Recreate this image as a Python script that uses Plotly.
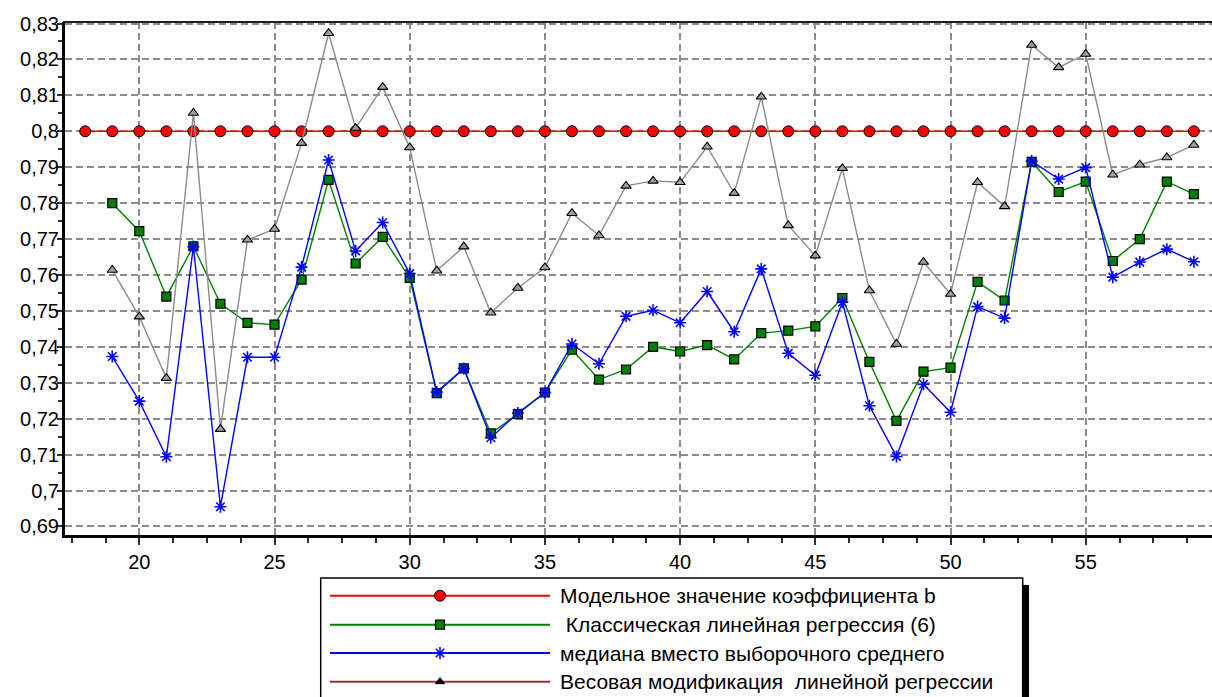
import plotly.graph_objects as go

# --- data -------------------------------------------------------------
x_model = list(range(18, 60))
b_model = [0.8] * len(x_model)

x_est = list(range(19, 60))
b_classic = [
    0.780, 0.7722, 0.754, 0.768, 0.752, 0.7467, 0.7462, 0.7587, 0.7865, 0.7632,
    0.7706, 0.7592, 0.7271, 0.734, 0.7159, 0.7213, 0.7273, 0.7392, 0.7309, 0.7337,
    0.740, 0.7387, 0.7405, 0.7365, 0.7438, 0.7445, 0.7457, 0.7536, 0.7358, 0.7194,
    0.7331, 0.7342, 0.7581, 0.7529, 0.7915, 0.7831, 0.786, 0.7639, 0.770, 0.786,
    0.7825,
]
b_median = [
    0.7373, 0.7249, 0.7094, 0.7679, 0.6955, 0.7371, 0.7371, 0.7622, 0.792, 0.7667,
    0.7746, 0.7604, 0.7274, 0.734, 0.7147, 0.7216, 0.7273, 0.7408, 0.7353, 0.7485,
    0.7502, 0.7467, 0.7554, 0.7442, 0.7617, 0.7382, 0.7321, 0.7524, 0.7236, 0.7095,
    0.7296, 0.7218, 0.7512, 0.748, 0.7917, 0.7867, 0.7899, 0.7594, 0.7636, 0.7672,
    0.7637,
]
b_weighted = [
    0.7614, 0.7484, 0.7313, 0.8051, 0.7171, 0.7698, 0.7728, 0.7967, 0.8273, 0.8009,
    0.8123, 0.7955, 0.7612, 0.7679, 0.7495, 0.7564, 0.7621, 0.7772, 0.771, 0.7848,
    0.7862, 0.7858, 0.7957, 0.7828, 0.8096, 0.7738, 0.7654, 0.7897, 0.7557, 0.7408,
    0.7636, 0.7547, 0.7858, 0.7791, 0.824, 0.8178, 0.8215, 0.7879, 0.7907, 0.7927,
    0.7962,
]

y_tickvals = [0.69, 0.70, 0.71, 0.72, 0.73, 0.74, 0.75, 0.76,
              0.77, 0.78, 0.79, 0.80, 0.81, 0.82, 0.83]
y_ticktext = ["0,69", "0,7", "0,71", "0,72", "0,73", "0,74", "0,75", "0,76",
              "0,77", "0,78", "0,79", "0,8", "0,81", "0,82", "0,83"]

series_names = [
    "Модельное значение коэффициента b",
    "\u00a0Классическая линейная регрессия (6)",
    "медиана вместо выборочного среднего",
    "Весовая модификация \u00a0линейной регрессии",
]

# --- styling ------------------------------------------------------------
W, H = 1212, 697
FONT = "Liberation Sans, Arial, sans-serif"
RED, GREEN, BLUE, GRAY, BROWN = "#ff0000", "#008000", "#0000ff", "#8c8c8c", "#993333"


def fx(px):
    return px / W


def fy(py):
    return 1 - py / H


# plot area in pixels
L, R, T, B = 65, W, 22, 535
Y_RANGE = [0.68763, 0.83042]

MK_MODEL = dict(symbol="circle", size=11, color=RED, line=dict(color="black", width=1))
MK_CLASSIC = dict(symbol="square", size=9, color=GREEN, line=dict(color="black", width=1.2))
MK_MEDIAN = dict(symbol="asterisk-open", size=10, color=BLUE, line=dict(color=BLUE, width=1.6))

fig = go.Figure()

fig.add_trace(go.Scatter(
    x=x_model, y=b_model, mode="lines+markers",
    line=dict(color=RED, width=1.6), marker=MK_MODEL,
))
fig.add_trace(go.Scatter(
    x=x_est, y=b_classic, mode="lines+markers",
    line=dict(color=GREEN, width=1.4), marker=MK_CLASSIC,
))
fig.add_trace(go.Scatter(
    x=x_est, y=b_median, mode="lines+markers",
    line=dict(color=BLUE, width=1.4), marker=MK_MEDIAN,
))
fig.add_trace(go.Scatter(
    x=x_est, y=b_weighted, mode="lines+markers",
    line=dict(color=GRAY, width=1.4),
    marker=dict(symbol="triangle-up", size=9, color="#a0a0a0", line=dict(color="black", width=1.1)),
))

# --- legend drawn in its own pixel-unit axes ------------------------------
leg_rows = [595.7, 624.7, 653.0, 681.7]
leg_line_colors = [RED, GREEN, BLUE, BROWN]
leg_markers = [
    MK_MODEL, MK_CLASSIC, MK_MEDIAN,
    dict(symbol="triangle-up", size=8, color="black", line=dict(color="black", width=1)),
]
for row, col, mk in zip(leg_rows, leg_line_colors, leg_markers):
    fig.add_trace(go.Scatter(
        x=[330, 550], y=[row, row], mode="lines",
        line=dict(color=col, width=2), xaxis="x2", yaxis="y2",
    ))
    fig.add_trace(go.Scatter(
        x=[440], y=[row], mode="markers", marker=mk, xaxis="x2", yaxis="y2",
    ))

shapes = [
    # legend shadow and frame
    dict(type="rect", xref="paper", yref="paper", x0=fx(1022.5), x1=fx(1029),
         y0=-0.05, y1=fy(585), fillcolor="black", line=dict(width=0), layer="below"),
    dict(type="rect", xref="paper", yref="paper", x0=fx(320.7), x1=fx(1022.7),
         y0=-0.05, y1=fy(578), fillcolor="white", line=dict(color="black", width=1.5),
         layer="below"),
    # thin frame on top of the plot area
    dict(type="line", xref="paper", yref="paper", x0=fx(L - 2), x1=1, y0=fy(T), y1=fy(T),
         line=dict(color="#202020", width=2)),
]

annotations = []
for name, row in zip(series_names, leg_rows):
    annotations.append(dict(
        xref="paper", yref="paper", x=fx(558), y=fy(row), text=name,
        xanchor="left", yanchor="middle", showarrow=False,
        font=dict(family=FONT, size=21, color="black"),
    ))

grid = dict(showgrid=True, gridcolor="#8c8c8c", gridwidth=1.6, griddash="7px,4px")

fig.update_layout(
    template="none",
    width=W, height=H,
    margin=dict(l=0, r=0, t=0, b=0),
    paper_bgcolor="white",
    plot_bgcolor="rgba(0,0,0,0)",
    showlegend=False,
    separators=", ",
    font=dict(family=FONT, size=20, color="black"),
    xaxis=dict(
        domain=[fx(L), 1], range=[17.252, 59.67],
        tickmode="linear", tick0=20, dtick=5,
        ticks="outside", ticklen=7, tickwidth=1.5, tickcolor="#303030",
        showline=True, linecolor="black", linewidth=3,
        zeroline=False, automargin=False,
        tickfont=dict(family=FONT, size=20, color="black"),
        minor=dict(dtick=1.25, tick0=20, ticks="outside", ticklen=5,
                   tickwidth=1.5, tickcolor="#303030", showgrid=False),
        **grid,
    ),
    yaxis=dict(
        domain=[fy(B), fy(T)], range=Y_RANGE,
        tickmode="array", tickvals=y_tickvals, showticklabels=False,
        ticks="outside", ticklen=5, tickwidth=1.5, tickcolor="#303030",
        showline=True, linecolor="black", linewidth=3,
        zeroline=False, automargin=False,
        minor=dict(tickmode="linear", dtick=0.005, tick0=0.685, ticks="outside",
                   ticklen=4, tickwidth=1.5, tickcolor="#303030", showgrid=False),
        **grid,
    ),
    # tick labels of the value axis, placed independently of the tick marks
    yaxis3=dict(
        overlaying="y", anchor="x", side="left", range=Y_RANGE,
        tickmode="array", tickvals=y_tickvals, ticktext=y_ticktext,
        ticks="", showline=False, showgrid=False, zeroline=False,
        automargin=False, ticklabelstandoff=5,
        tickfont=dict(family=FONT, size=20, color="black"),
    ),
    xaxis2=dict(domain=[0, 1], range=[0, W], visible=False, fixedrange=True),
    yaxis2=dict(domain=[0, fy(575)], range=[H, 575], visible=False, fixedrange=True),
    shapes=shapes,
    annotations=annotations,
)

# a hidden trace binds the label axis to the plot
fig.add_trace(go.Scatter(x=[None], y=[None], yaxis="y3", showlegend=False, hoverinfo="skip"))

fig.write_html("out.html")
